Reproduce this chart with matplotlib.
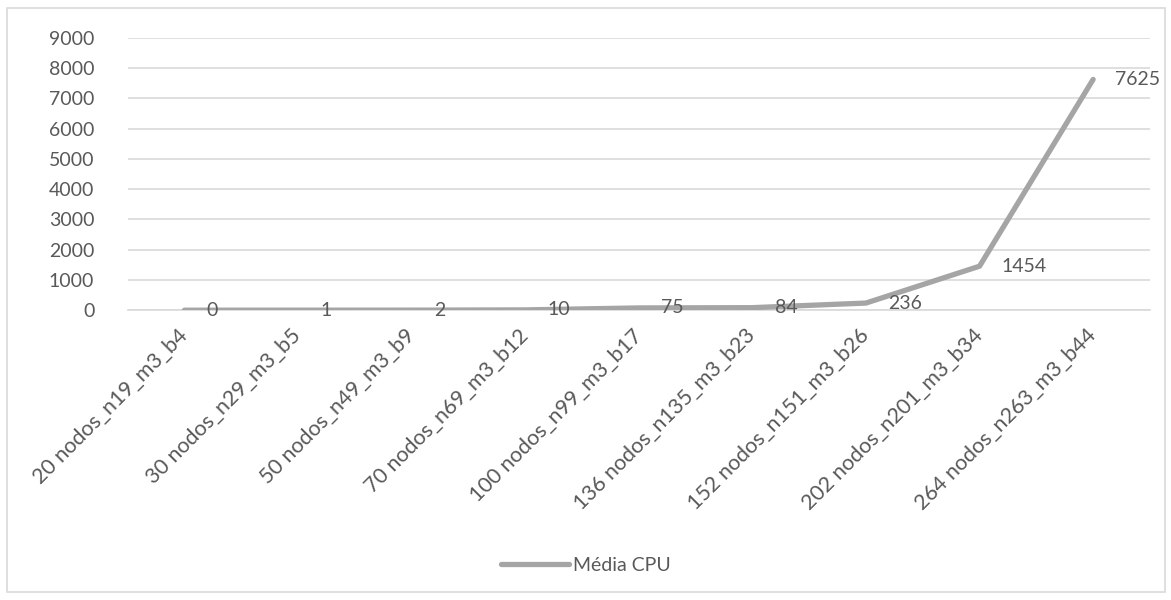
import matplotlib.pyplot as plt
from matplotlib.patches import Rectangle

# data
categorias = ["20 nodos_n19_m3_b4", "30 nodos_n29_m3_b5", "50 nodos_n49_m3_b9",
              "70 nodos_n69_m3_b12", "100 nodos_n99_m3_b17", "136 nodos_n135_m3_b23",
              "152 nodos_n151_m3_b26", "202 nodos_n201_m3_b34", "264 nodos_n263_m3_b44"]
media_cpu = [0, 1, 2, 10, 75, 84, 236, 1454, 7625]
yticks = [0, 1000, 2000, 3000, 4000, 5000, 6000, 7000, 8000, 9000]

plt.rcParams['font.family'] = ['Lato', 'DejaVu Sans']
txt = '#595959'

fig = plt.figure(figsize=(11.71, 6), dpi=100)
ax = fig.add_axes([0.109, 0.483, 0.873, 0.454])

# outer chart border like Excel
fig.patches.append(Rectangle((7 / 1171, 8 / 600), 1158 / 1171, 584 / 600,
                             transform=fig.transFigure, fill=False,
                             edgecolor='#D9D9D9', linewidth=1.2))

x = list(range(len(categorias)))
ax.plot(x, media_cpu, color='#A5A5A5', linewidth=3.8, solid_capstyle='round',
        solid_joinstyle='round', label='Média CPU', zorder=3)

for xi, v in zip(x, media_cpu):
    ax.annotate(str(v), (xi, v), xytext=(16, 0), textcoords='offset points',
                ha='left', va='center', fontsize=14, color=txt, zorder=4)

ax.set_xlim(-0.5, len(categorias) - 0.5)
ax.set_ylim(0, 9000)
ax.set_yticks(yticks)
ax.set_yticklabels([str(t) for t in yticks], fontsize=14, color=txt)
ax.set_xticks(x)
ax.set_xticklabels(categorias, rotation=45, ha='right', va='center',
                   rotation_mode='anchor', fontsize=15.5, color=txt)
ax.tick_params(axis='both', length=0)
ax.tick_params(axis='y', pad=24)
ax.tick_params(axis='x', pad=16)

ax.grid(axis='y', color='#D9D9D9', linewidth=1.2)
ax.set_axisbelow(True)
for s in ['top', 'right', 'left']:
    ax.spines[s].set_visible(False)
ax.spines['bottom'].set_color('#D9D9D9')
ax.spines['bottom'].set_linewidth(1.2)

fig.legend(loc='center', bbox_to_anchor=(0.5, 0.058), frameon=False,
           fontsize=14, labelcolor=txt, handlelength=3.5, handletextpad=0.2)

fig.savefig('out.png', dpi=100)
